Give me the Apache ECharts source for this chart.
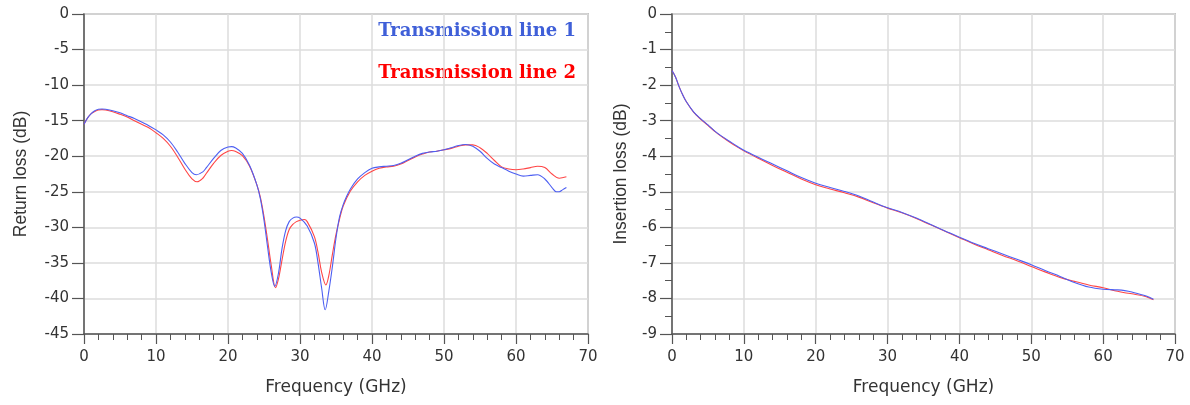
<!DOCTYPE html>
<html>
<head>
<meta charset="utf-8">
<script src="https://cdn.jsdelivr.net/npm/echarts@6/dist/echarts.min.js"></script>
<style>
html,body{margin:0;padding:0;background:#fff;}
#chart{width:1190px;height:405px;}
</style>
</head>
<body>
<div id="chart"></div>
<script>
// ---- Data ----
var seriesNames = ['Transmission line 1', 'Transmission line 2'];

// Return loss, Transmission line 1
var rlFreq1 = [0,0.5,1,1.5,2,2.5,3,4,5,6,7,8,9,10,11,12,13,14,15,15.6,16.5,17,18,19,20,20.5,21,22,23,24,24.5,25,25.5,26,26.5,27,27.5,28,28.5,29,29.5,30,31,32,32.5,33,33.5,34,34.5,35,35.5,36,36.5,37,38,39,40,41,42,43,44,45,46,47,48,49,50,51,52,53,54,55,56,57,58,59,60,61,62,63,64,65,65.6,66,66.5,67];
var rl1 = [-15.5,-14.6,-14.0,-13.6,-13.4,-13.35,-13.4,-13.6,-13.9,-14.3,-14.7,-15.2,-15.7,-16.3,-17.0,-18.0,-19.4,-21.0,-22.3,-22.6,-22.2,-21.6,-20.3,-19.2,-18.7,-18.65,-18.8,-19.6,-21.3,-24.0,-26.0,-29.0,-32.8,-36.3,-38.3,-36.5,-33.0,-30.5,-29.2,-28.7,-28.55,-28.7,-29.8,-32.2,-35.0,-38.5,-41.6,-39.0,-35.5,-31.5,-28.5,-26.8,-25.6,-24.6,-23.2,-22.3,-21.7,-21.5,-21.4,-21.3,-21.0,-20.5,-20.0,-19.6,-19.4,-19.3,-19.1,-18.8,-18.5,-18.35,-18.6,-19.3,-20.3,-21.1,-21.6,-22.1,-22.5,-22.8,-22.7,-22.6,-23.2,-24.4,-25.0,-25.0,-24.7,-24.4];

// Return loss, Transmission line 2
var rlFreq2 = [0,0.5,1,1.5,2,2.5,3,4,5,6,7,8,9,10,11,12,13,14,15,15.7,16.5,17,18,19,20,20.5,21,22,23,24,24.5,25,25.5,26,26.6,27,27.5,28,28.5,29,29.5,30,30.6,31,32,32.5,33,33.6,34,34.5,35,35.5,36,37,38,39,40,41,42,43,44,45,46,47,48,49,50,51,52,53,54,55,56,57,58,59,60,61,62,63,64,65,66,67];
var rl2 = [-15.5,-14.6,-14.0,-13.7,-13.5,-13.45,-13.5,-13.75,-14.1,-14.5,-15.0,-15.5,-16.0,-16.7,-17.5,-18.6,-20.1,-21.8,-23.2,-23.6,-23.1,-22.4,-21.0,-19.9,-19.3,-19.2,-19.3,-19.9,-21.4,-24.0,-25.8,-28.5,-31.8,-35.3,-38.5,-37.3,-34.6,-32.0,-30.3,-29.6,-29.2,-29.0,-28.9,-29.2,-31.3,-33.5,-36.3,-38.1,-36.8,-33.8,-31.0,-28.8,-27.0,-24.9,-23.6,-22.7,-22.1,-21.7,-21.5,-21.4,-21.1,-20.6,-20.1,-19.7,-19.4,-19.3,-19.1,-18.9,-18.6,-18.4,-18.4,-18.8,-19.6,-20.6,-21.5,-21.8,-21.9,-21.8,-21.6,-21.4,-21.6,-22.5,-23.1,-22.9];

// Insertion loss
var ilFreq = [0,0.5,1,1.5,2,3,4,5,6,7,8,9,10,12,14,16,18,20,22,24,26,28,30,32,34,36,38,40,42,44,46,48,50,52,54,56,58,60,62,63,64,66,67];
var il1 = [-1.59,-1.78,-2.05,-2.28,-2.47,-2.75,-2.95,-3.12,-3.3,-3.45,-3.58,-3.71,-3.83,-4.03,-4.22,-4.41,-4.6,-4.76,-4.88,-4.99,-5.12,-5.29,-5.45,-5.58,-5.74,-5.92,-6.1,-6.28,-6.45,-6.6,-6.75,-6.9,-7.05,-7.22,-7.38,-7.55,-7.68,-7.74,-7.76,-7.78,-7.82,-7.93,-8.02];
var il2 = [-1.59,-1.78,-2.05,-2.28,-2.47,-2.76,-2.96,-3.13,-3.31,-3.46,-3.6,-3.73,-3.85,-4.06,-4.26,-4.45,-4.64,-4.8,-4.92,-5.03,-5.15,-5.31,-5.46,-5.59,-5.75,-5.93,-6.11,-6.29,-6.47,-6.63,-6.79,-6.94,-7.1,-7.26,-7.41,-7.52,-7.62,-7.7,-7.8,-7.84,-7.87,-7.95,-8.04];

var xName = 'Frequency (GHz)';
var yNameLeft = 'Return loss (dB)';
var yNameRight = 'Insertion loss (dB)';

function pairs(xs, ys){ return xs.map(function(x,i){ return [x, ys[i]]; }); }

var blue = '#4d5ff2';
var red = '#ff4545';
var labelFont = {fontFamily:'DejaVu Sans', fontSize:15, color:'#333'};

function makeX(idx){
  return {
    type:'value', gridIndex:idx, min:0, max:70, interval:10,
    name:xName, nameLocation:'middle', nameGap:45,
    nameTextStyle:{fontFamily:'DejaVu Sans', fontSize:17, color:'#333'},
    axisLine:{show:true, onZero:false, lineStyle:{color:'#555', width:1.5}},
    axisTick:{show:true, length:10, lineStyle:{color:'#555', width:1.2}},
    minorTick:{show:true, splitNumber:5, length:6, lineStyle:{color:'#555', width:1}},
    axisLabel:Object.assign({margin:16}, labelFont),
    splitLine:{show:true, lineStyle:{color:'#dcdcdc', width:1.5}}
  };
}
function makeY(idx, min, interval, name, minor){
  return {
    type:'value', gridIndex:idx, min:min, max:0, interval:interval,
    name:name, nameLocation:'middle', nameGap:idx===0?54:42, nameRotate:90,
    nameTextStyle:{fontFamily:'Liberation Sans', fontSize:17.5, color:'#333'},
    axisLine:{show:true, onZero:false, lineStyle:{color:'#555', width:1.5}},
    axisTick:{show:true, length:12, lineStyle:{color:'#555', width:1.2}},
    minorTick:{show:minor, splitNumber:2, length:7, lineStyle:{color:'#555', width:1}},
    axisLabel:Object.assign({margin:15}, labelFont),
    splitLine:{show:true, lineStyle:{color:'#dcdcdc', width:1.5}}
  };
}

var chart = echarts.init(document.getElementById('chart'), null, {renderer:'canvas'});
chart.setOption({
  backgroundColor:'#fff',
  animation:false,
  grid:[
    {left:84, top:14, width:504, height:320, show:true, borderColor:'#999', borderWidth:1.5, backgroundColor:'transparent'},
    {left:672, top:14, width:503, height:320, show:true, borderColor:'#999', borderWidth:1.5, backgroundColor:'transparent'}
  ],
  xAxis:[makeX(0), makeX(1)],
  yAxis:[makeY(0,-45,5,yNameLeft,false), makeY(1,-9,1,yNameRight,true)],
  series:[
    {name:seriesNames[1], type:'line', xAxisIndex:0, yAxisIndex:0, data:pairs(rlFreq2, rl2), smooth:0.35, showSymbol:false, lineStyle:{color:red, width:1.1}, itemStyle:{color:red}},
    {name:seriesNames[0], type:'line', xAxisIndex:0, yAxisIndex:0, data:pairs(rlFreq1, rl1), smooth:0.35, showSymbol:false, lineStyle:{color:blue, width:1.1}, itemStyle:{color:blue}},
    {name:seriesNames[1], type:'line', xAxisIndex:1, yAxisIndex:1, data:pairs(ilFreq, il2), smooth:0.35, showSymbol:false, lineStyle:{color:red, width:1.1}, itemStyle:{color:red}},
    {name:seriesNames[0], type:'line', xAxisIndex:1, yAxisIndex:1, data:pairs(ilFreq, il1), smooth:0.35, showSymbol:false, lineStyle:{color:blue, width:1.1}, itemStyle:{color:blue}}
  ],
  graphic:[
    {type:'text', right:1190-576, top:22, style:{text:seriesNames[0], fill:'#3f5fd8', font:'bold 18px "DejaVu Serif"', textAlign:'right'}},
    {type:'text', right:1190-576, top:64, style:{text:seriesNames[1], fill:'#ff0000', font:'bold 18px "DejaVu Serif"', textAlign:'right'}}
  ]
});
</script>
</body>
</html>
